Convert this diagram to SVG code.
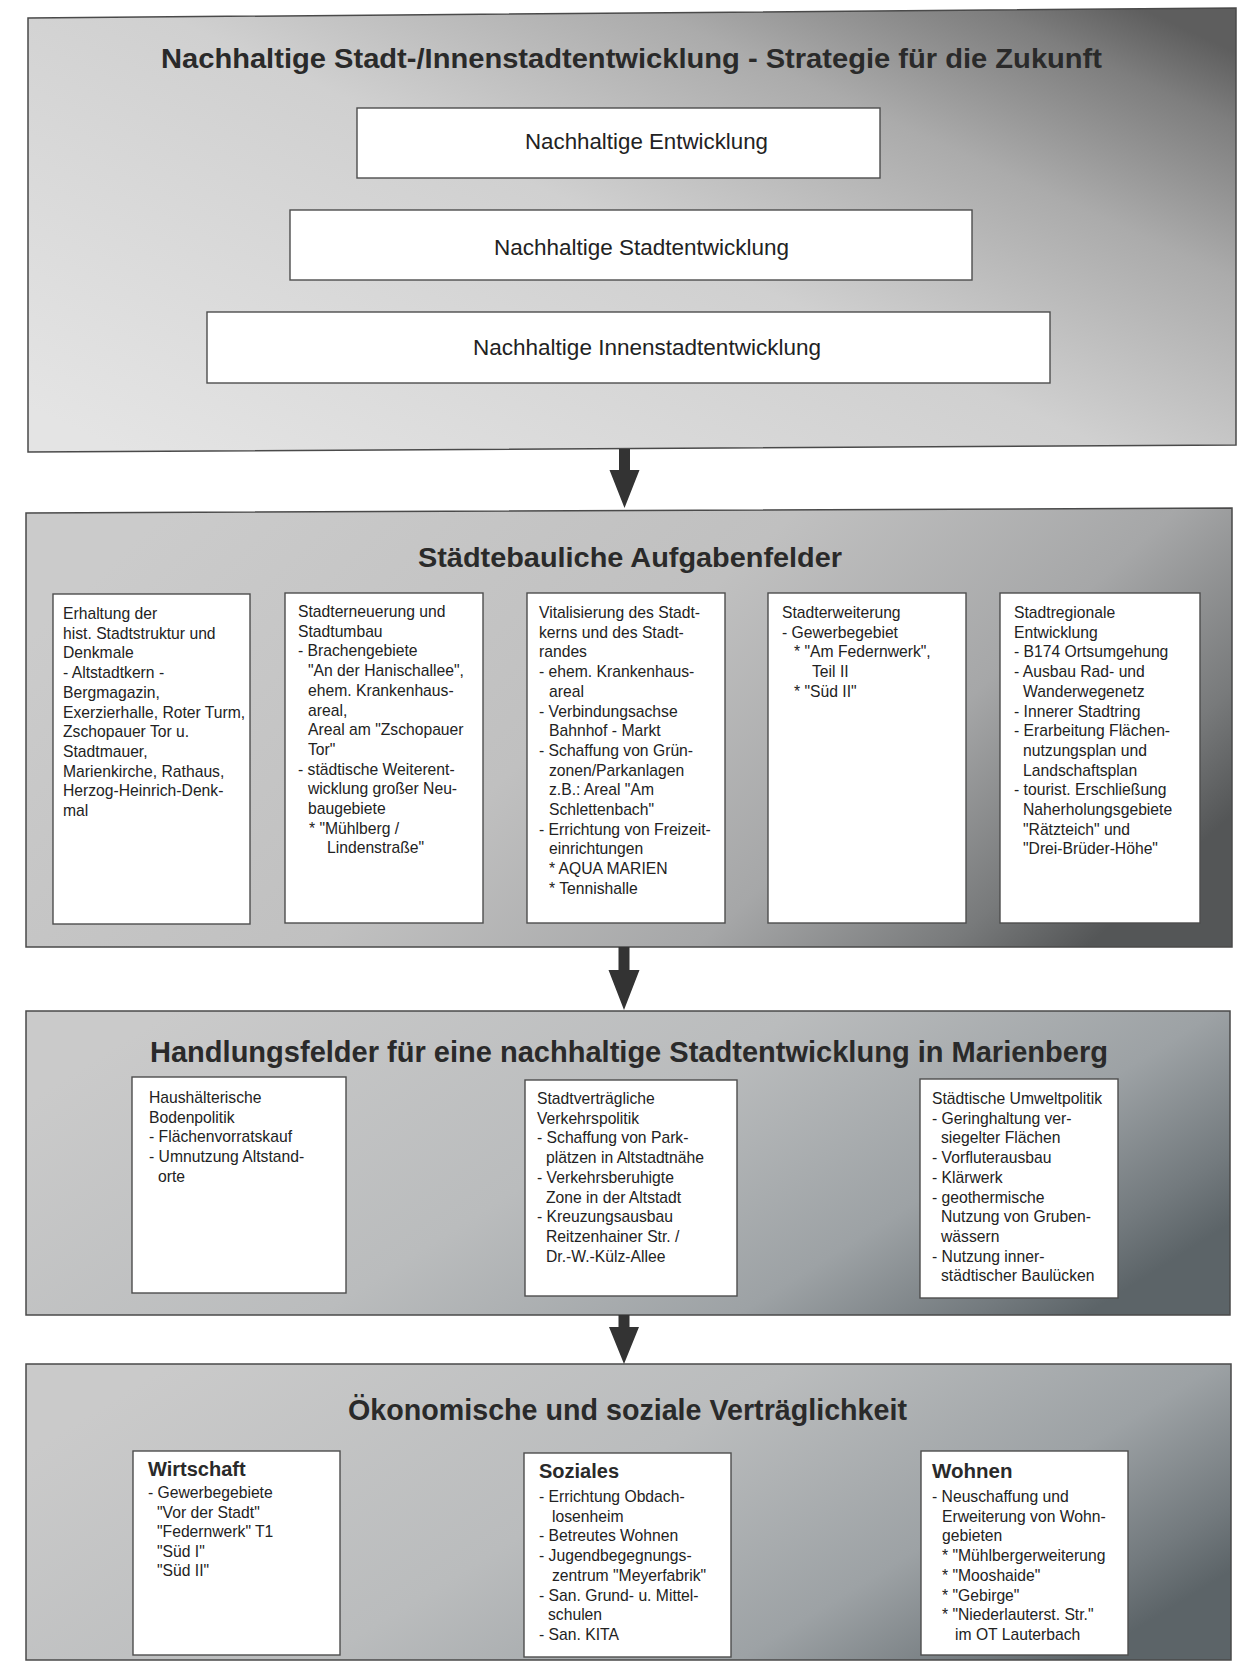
<svg xmlns="http://www.w3.org/2000/svg" width="1250" height="1661" viewBox="0 0 1250 1661">
<defs>
<linearGradient id="g1" x1="0" y1="0.9" x2="1" y2="0.1">
<stop offset="0" stop-color="#e4e4e4"/><stop offset="0.5" stop-color="#d0d0d0"/><stop offset="0.75" stop-color="#ababab"/><stop offset="0.92" stop-color="#7e7e7e"/><stop offset="1" stop-color="#5e5e5e"/>
</linearGradient>
<linearGradient id="g2" x1="0" y1="0.3" x2="1" y2="0.7">
<stop offset="0" stop-color="#cbcbcb"/><stop offset="0.45" stop-color="#c0c0c0"/><stop offset="0.72" stop-color="#a6a7a8"/><stop offset="0.9" stop-color="#787a7b"/><stop offset="1" stop-color="#545657"/>
</linearGradient>
<linearGradient id="g3" x1="0" y1="0.3" x2="1" y2="0.7">
<stop offset="0" stop-color="#cacaca"/><stop offset="0.45" stop-color="#babcbd"/><stop offset="0.75" stop-color="#9da2a5"/><stop offset="0.92" stop-color="#737a7e"/><stop offset="1" stop-color="#5c6468"/>
</linearGradient>
</defs>
<style>
.panel{stroke:#4a4a4a;stroke-width:1.5}
.box{fill:#ffffff;stroke:#4d4d4d;stroke-width:1.4}
.t{font-family:"Liberation Sans",Arial,sans-serif;font-size:15.7px;fill:#222}
.h{font-family:"Liberation Sans",Arial,sans-serif;font-weight:bold;fill:#2a2a2a}
.m{font-family:"Liberation Sans",Arial,sans-serif;font-size:22px;fill:#222}
.arrow{fill:#333}
</style>
<rect width="1250" height="1661" fill="#ffffff"/>

<g id="panel-strategie">
<polygon class="panel" fill="url(#g1)" points="28,18 1236,8 1236,445 28,452"/>
<text class="h" font-size="27" x="161" y="68" textLength="941" lengthAdjust="spacingAndGlyphs">Nachhaltige Stadt-/Innenstadtentwicklung - Strategie für die Zukunft</text>
</g>
<g id="node-entwicklung">
<rect class="box" x="357" y="108" width="523" height="70"/>
<text class="m" x="525" y="149" textLength="243" lengthAdjust="spacingAndGlyphs">Nachhaltige Entwicklung</text>
</g>
<g id="node-stadtentwicklung">
<rect class="box" x="290" y="210" width="682" height="70"/>
<text class="m" x="494" y="255" textLength="295" lengthAdjust="spacingAndGlyphs">Nachhaltige Stadtentwicklung</text>
</g>
<g id="node-innenstadt">
<rect class="box" x="207" y="312" width="843" height="71"/>
<text class="m" x="473" y="355" textLength="348" lengthAdjust="spacingAndGlyphs">Nachhaltige Innenstadtentwicklung</text>
</g>

<g id="panel-aufgabenfelder">
<polygon class="panel" fill="url(#g2)" points="26,513 1232,508 1232,947 26,947"/>
<text class="h" font-size="28" x="418" y="567" textLength="424" lengthAdjust="spacingAndGlyphs">Städtebauliche Aufgabenfelder</text>
</g>
<g id="node-erhaltung">
<rect class="box" x="53" y="594" width="197" height="330"/>
<text class="t" y="619"><tspan x="63">Erhaltung der</tspan><tspan x="63" dy="19.7">hist. Stadtstruktur und</tspan><tspan x="63" dy="19.7">Denkmale</tspan><tspan x="63" dy="19.7">- Altstadtkern -</tspan><tspan x="63" dy="19.7">Bergmagazin,</tspan><tspan x="63" dy="19.7">Exerzierhalle, Roter Turm,</tspan><tspan x="63" dy="19.7">Zschopauer Tor u.</tspan><tspan x="63" dy="19.7">Stadtmauer,</tspan><tspan x="63" dy="19.7">Marienkirche, Rathaus,</tspan><tspan x="63" dy="19.7">Herzog-Heinrich-Denk-</tspan><tspan x="63" dy="19.7">mal</tspan></text>
</g>
<g id="node-stadterneuerung">
<rect class="box" x="285" y="593" width="198" height="330"/>
<text class="t" y="617"><tspan x="298">Stadterneuerung und</tspan><tspan x="298" dy="19.7">Stadtumbau</tspan><tspan x="298" dy="19.7">- Brachengebiete</tspan><tspan x="308" dy="19.7">"An der Hanischallee",</tspan><tspan x="308" dy="19.7">ehem. Krankenhaus-</tspan><tspan x="308" dy="19.7">areal,</tspan><tspan x="308" dy="19.7">Areal am "Zschopauer</tspan><tspan x="308" dy="19.7">Tor"</tspan><tspan x="298" dy="19.7">- städtische Weiterent-</tspan><tspan x="308" dy="19.7">wicklung großer Neu-</tspan><tspan x="308" dy="19.7">baugebiete</tspan><tspan x="309" dy="19.7">* "Mühlberg /</tspan><tspan x="327" dy="19.7">Lindenstraße"</tspan></text>
</g>
<g id="node-vitalisierung">
<rect class="box" x="527" y="593" width="198" height="330"/>
<text class="t" y="618"><tspan x="539">Vitalisierung des Stadt-</tspan><tspan x="539" dy="19.7">kerns und des Stadt-</tspan><tspan x="539" dy="19.7">randes</tspan><tspan x="539" dy="19.7">- ehem. Krankenhaus-</tspan><tspan x="549" dy="19.7">areal</tspan><tspan x="539" dy="19.7">- Verbindungsachse</tspan><tspan x="549" dy="19.7">Bahnhof - Markt</tspan><tspan x="539" dy="19.7">- Schaffung von Grün-</tspan><tspan x="549" dy="19.7">zonen/Parkanlagen</tspan><tspan x="549" dy="19.7">z.B.: Areal "Am</tspan><tspan x="549" dy="19.7">Schlettenbach"</tspan><tspan x="539" dy="19.7">- Errichtung von Freizeit-</tspan><tspan x="549" dy="19.7">einrichtungen</tspan><tspan x="549" dy="19.7">* AQUA MARIEN</tspan><tspan x="549" dy="19.7">* Tennishalle</tspan></text>
</g>
<g id="node-stadterweiterung">
<rect class="box" x="768" y="593" width="198" height="330"/>
<text class="t" y="618"><tspan x="782">Stadterweiterung</tspan><tspan x="782" dy="19.7">- Gewerbegebiet</tspan><tspan x="794" dy="19.7">* "Am Federnwerk",</tspan><tspan x="812" dy="19.7">Teil II</tspan><tspan x="794" dy="19.7">* "Süd II"</tspan></text>
</g>
<g id="node-stadtregional">
<rect class="box" x="1000" y="593" width="200" height="330"/>
<text class="t" y="618"><tspan x="1014">Stadtregionale</tspan><tspan x="1014" dy="19.7">Entwicklung</tspan><tspan x="1014" dy="19.7">- B174 Ortsumgehung</tspan><tspan x="1014" dy="19.7">- Ausbau Rad- und</tspan><tspan x="1023" dy="19.7">Wanderwegenetz</tspan><tspan x="1014" dy="19.7">- Innerer Stadtring</tspan><tspan x="1014" dy="19.7">- Erarbeitung Flächen-</tspan><tspan x="1023" dy="19.7">nutzungsplan und</tspan><tspan x="1023" dy="19.7">Landschaftsplan</tspan><tspan x="1014" dy="19.7">- tourist. Erschließung</tspan><tspan x="1023" dy="19.7">Naherholungsgebiete</tspan><tspan x="1023" dy="19.7">"Rätzteich" und</tspan><tspan x="1023" dy="19.7">"Drei-Brüder-Höhe"</tspan></text>
</g>

<g id="panel-handlungsfelder">
<rect class="panel" fill="url(#g3)" x="26" y="1011" width="1204" height="304"/>
<text class="h" font-size="30" x="150" y="1062" textLength="958" lengthAdjust="spacingAndGlyphs">Handlungsfelder für eine nachhaltige Stadtentwicklung in Marienberg</text>
</g>
<g id="node-bodenpolitik">
<rect class="box" x="132" y="1077" width="214" height="216"/>
<text class="t" y="1103"><tspan x="149">Haushälterische</tspan><tspan x="149" dy="19.7">Bodenpolitik</tspan><tspan x="149" dy="19.7">- Flächenvorratskauf</tspan><tspan x="149" dy="19.7">- Umnutzung Altstand-</tspan><tspan x="158" dy="19.7">orte</tspan></text>
</g>
<g id="node-verkehrspolitik">
<rect class="box" x="525" y="1080" width="212" height="216"/>
<text class="t" y="1104"><tspan x="537">Stadtverträgliche</tspan><tspan x="537" dy="19.7">Verkehrspolitik</tspan><tspan x="537" dy="19.7">- Schaffung von Park-</tspan><tspan x="546" dy="19.7">plätzen in Altstadtnähe</tspan><tspan x="537" dy="19.7">- Verkehrsberuhigte</tspan><tspan x="546" dy="19.7">Zone in der Altstadt</tspan><tspan x="537" dy="19.7">- Kreuzungsausbau</tspan><tspan x="546" dy="19.7">Reitzenhainer Str. /</tspan><tspan x="546" dy="19.7">Dr.-W.-Külz-Allee</tspan></text>
</g>
<g id="node-umweltpolitik">
<rect class="box" x="920" y="1079" width="198" height="219"/>
<text class="t" y="1104"><tspan x="932">Städtische Umweltpolitik</tspan><tspan x="932" dy="19.7">- Geringhaltung ver-</tspan><tspan x="941" dy="19.7">siegelter Flächen</tspan><tspan x="932" dy="19.7">- Vorfluterausbau</tspan><tspan x="932" dy="19.7">- Klärwerk</tspan><tspan x="932" dy="19.7">- geothermische</tspan><tspan x="941" dy="19.7">Nutzung von Gruben-</tspan><tspan x="941" dy="19.7">wässern</tspan><tspan x="932" dy="19.7">- Nutzung inner-</tspan><tspan x="941" dy="19.7">städtischer Baulücken</tspan></text>
</g>

<g id="panel-vertraeglichkeit">
<rect class="panel" fill="url(#g3)" x="26" y="1364" width="1205" height="296"/>
<text class="h" font-size="30" x="348" y="1420" textLength="559" lengthAdjust="spacingAndGlyphs">Ökonomische und soziale Verträglichkeit</text>
</g>
<g id="node-wirtschaft">
<rect class="box" x="133" y="1451" width="207" height="204"/>
<text class="h" font-size="20" x="148" y="1476">Wirtschaft</text>
<text class="t" y="1498"><tspan x="148">- Gewerbegebiete</tspan><tspan x="157" dy="19.6">"Vor der Stadt"</tspan><tspan x="157" dy="19.6">"Federnwerk" T1</tspan><tspan x="157" dy="19.6">"Süd I"</tspan><tspan x="157" dy="19.6">"Süd II"</tspan></text>
</g>
<g id="node-soziales">
<rect class="box" x="524" y="1453" width="207" height="204"/>
<text class="h" font-size="20" x="539" y="1478">Soziales</text>
<text class="t" y="1502"><tspan x="539">- Errichtung Obdach-</tspan><tspan x="552" dy="19.7">losenheim</tspan><tspan x="539" dy="19.7">- Betreutes Wohnen</tspan><tspan x="539" dy="19.7">- Jugendbegegnungs-</tspan><tspan x="552" dy="19.7">zentrum "Meyerfabrik"</tspan><tspan x="539" dy="19.7">- San. Grund- u. Mittel-</tspan><tspan x="548" dy="19.7">schulen</tspan><tspan x="539" dy="19.7">- San. KITA</tspan></text>
</g>
<g id="node-wohnen">
<rect class="box" x="921" y="1451" width="207" height="204"/>
<text class="h" font-size="20.5" x="932" y="1478">Wohnen</text>
<text class="t" y="1502"><tspan x="932">- Neuschaffung und</tspan><tspan x="942" dy="19.7">Erweiterung von Wohn-</tspan><tspan x="942" dy="19.7">gebieten</tspan><tspan x="942" dy="19.7">* "Mühlbergerweiterung</tspan><tspan x="942" dy="19.7">* "Mooshaide"</tspan><tspan x="942" dy="19.7">* "Gebirge"</tspan><tspan x="942" dy="19.7">* "Niederlauterst. Str."</tspan><tspan x="955" dy="19.7">im OT Lauterbach</tspan></text>
</g>

<g id="connectors">
<polygon class="arrow" points="619,449 630,449 630,470 639.5,470 624.5,508 609.5,470 619,470"/>
<polygon class="arrow" points="618.5,947 629.5,947 629.5,970 639.5,970 624,1010 608.5,970 618.5,970"/>
<polygon class="arrow" points="618.5,1315 629.5,1315 629.5,1327 639,1327 624,1364 609,1327 618.5,1327"/>
</g>
</svg>
